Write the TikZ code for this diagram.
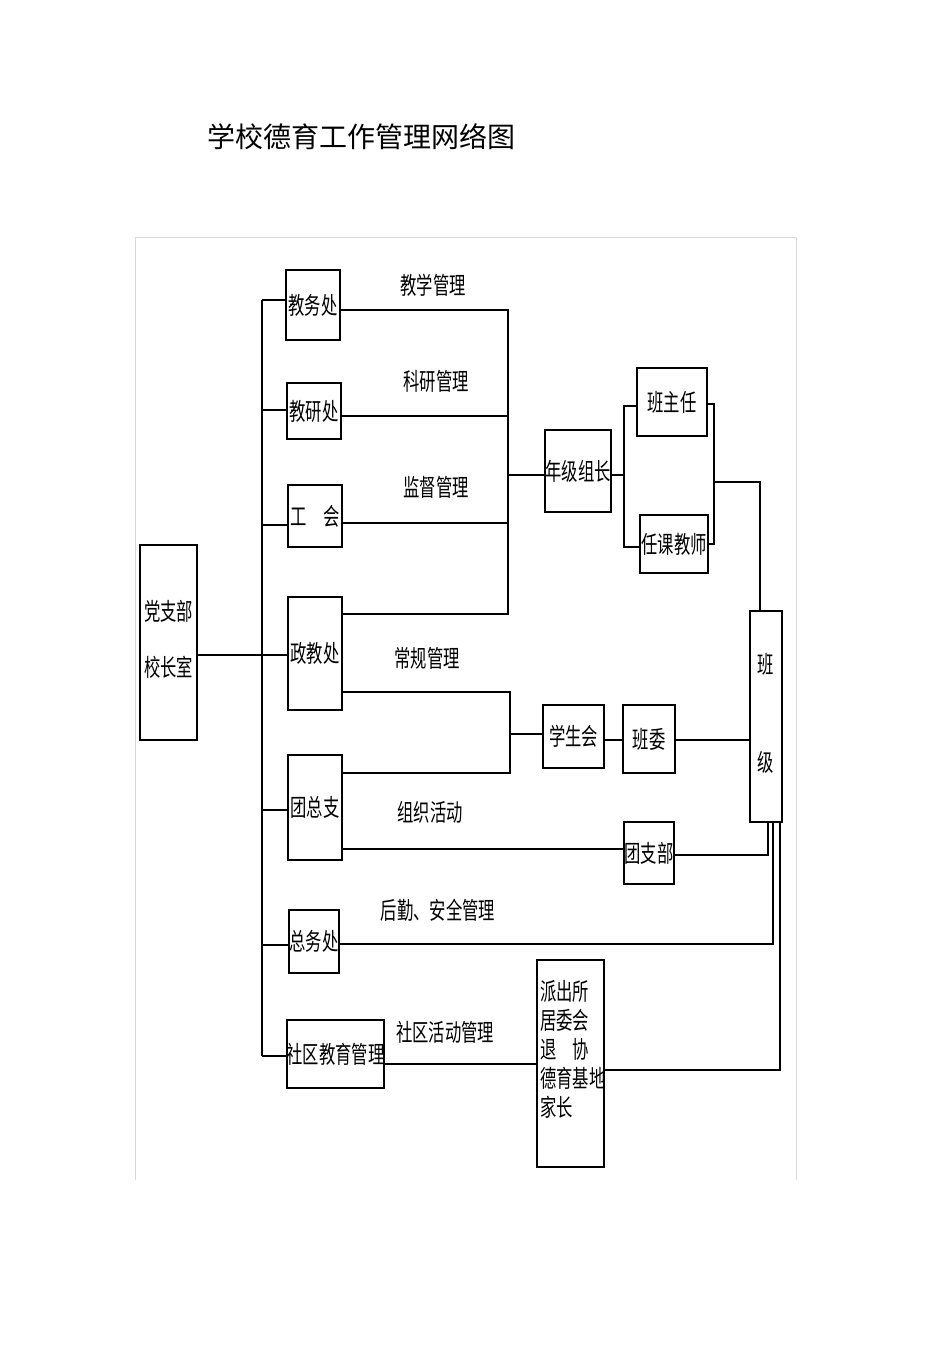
\documentclass[tikz,border=0pt]{standalone}
\usepackage{fontspec}
\usepackage{graphicx}
\setmainfont{Noto Sans CJK SC}
\newcommand\cz[1]{\scalebox{0.68}[1]{#1}}
\begin{document}
\begin{tikzpicture}[x=1pt,y=-1pt,
  bx/.style={draw,line width=2pt,inner sep=0pt,font=\fontsize{24}{26}\selectfont},
  ln/.style={line width=2.4pt},
  tn/.style={line width=1.2pt},
  lb/.style={font=\fontsize{24}{26}\selectfont}]
\useasboundingbox (0,0) rectangle (950,1345);
\draw[gray!30,line width=1pt] (135,1180) -- (135,237) -- (796,237) -- (796,1180);
\node[font=\fontsize{28}{30}\selectfont,anchor=west] (title) at (204,137) {学校德育工作管理网络图};
% boxes
\node[bx,minimum width=57,minimum height=195] (dz) at (168.5,642.5) {\cz{\begin{tabular}{c}党支部\\[28pt]校长室\end{tabular}}};
\node[bx,minimum width=54,minimum height=70] (jw) at (313,305) {\cz{教务处}};
\node[bx,minimum width=54,minimum height=56] (jy) at (314,411) {\cz{教研处}};
\node[bx,minimum width=54,minimum height=62] (gh) at (315,516) {\cz{工\quad 会}};
\node[bx,minimum width=54,minimum height=113] (zj) at (315,653.5) {\cz{政教处}};
\node[bx,minimum width=54,minimum height=105] (tz) at (315,807.5) {\cz{团总支}};
\node[bx,minimum width=50,minimum height=63] (zw) at (314,941.5) {\cz{总务处}};
\node[bx,minimum width=93,minimum height=68] (sq) at (335.5,1054) {\cz{社区教育管理}};
\node[bx,minimum width=66,minimum height=82] (nj) at (578,471) {\cz{年级组长}};
\node[bx,minimum width=70,minimum height=68] (bzr) at (672,402) {\cz{班主任}};
\node[bx,minimum width=68,minimum height=58] (rk) at (674,544) {\cz{任课教师}};
\node[bx,minimum width=61,minimum height=63] (xsh) at (573.5,736.5) {\cz{学生会}};
\node[bx,minimum width=52,minimum height=68] (bw) at (649,739) {\cz{班委}};
\node[bx,minimum width=50,minimum height=62] (tzb) at (649,853) {\cz{团支部}};
\node[bx,minimum width=32,minimum height=211] (bj) at (766,716.5) {\cz{\begin{tabular}{c}班\\[70pt]级\end{tabular}}};
\node[bx,minimum width=67,minimum height=207] (pcs) at (570.5,1063.5) {};
\node[anchor=north west,inner sep=0pt,font=\fontsize{24}{29}\selectfont] (pcst) at (540,980) {\cz{\begin{tabular}{@{}l@{}}派出所\\居委会\\退\quad 协\\德育基地\\家长\end{tabular}}};
% labels
\node[lb] (l1) at (433,285) {\cz{教学管理}};
\node[lb] (l2) at (436,381) {\cz{科研管理}};
\node[lb] (l3) at (436,487) {\cz{监督管理}};
\node[lb] (l4) at (427,658) {\cz{常规管理}};
\node[lb] (l5) at (430,812) {\cz{组织活动}};
\node[lb] (l6) at (438,910) {\cz{后勤、安全管理}};
\node[lb] (l7) at (445,1032) {\cz{社区活动管理}};
% trunk
\coordinate (t1) at (262,300);
\coordinate (t2) at (262,1056);
\draw[ln] (t1) -- (t2);
\draw[ln] (dz.east |- 0,655) -- (zj.west |- 0,655);
\draw[ln] (t1) -- (jw.west |- t1);
\draw[ln] (262,410) -- (jy.west |- 0,410);
\draw[ln] (262,525) -- (gh.west |- 0,525);
\draw[ln] (262,810) -- (tz.west |- 0,810);
\draw[ln] (262,945) -- (zw.west |- 0,945);
\draw[ln] (t2) -- (sq.west |- t2);
% top bus
\draw[ln] (jw.east |- 0,310) -- (508,310) -- (508,614) -- (zj.east |- 0,614);
\draw[ln] (jy.east |- 0,416) -- (508,416);
\draw[ln] (gh.east |- 0,523) -- (508,523);
\draw[ln] (508,475) -- (nj.west |- 0,475);
\draw[ln] (nj.east |- 0,475) -- (624,475);
\draw[ln] (bzr.west |- 0,406) -- (624,406) -- (624,547) -- (rk.west |- 0,547);
\draw[tn] (bzr.east |- 0,404) -- (714,404) -- (714,544) -- (rk.east |- 0,544);
\draw[tn] (714,482) -- (760,482) -- (bj.north -| 760,0);
% middle
\draw[ln] (zj.east |- 0,692) -- (510,692) -- (510,773) -- (tz.east |- 0,773);
\draw[ln] (510,734) -- (xsh.west |- 0,734);
\draw[ln] (xsh.east |- 0,740) -- (bw.west |- 0,740);
\draw[ln] (bw.east |- 0,740) -- (bj.west |- 0,740);
\draw[ln] (tz.east |- 0,849) -- (tzb.west |- 0,849);
\draw[tn] (tzb.east |- 0,855) -- (768,855) -- (bj.south -| 768,0);
\draw[ln] (zw.east |- 0,944) -- (773,944) -- (bj.south -| 773,0);
\draw[ln] (sq.east |- 0,1064) -- (pcs.west |- 0,1064);
\draw[tn] (pcs.east |- 0,1070) -- (780,1070) -- (bj.south -| 780,0);
\end{tikzpicture}
\end{document}
